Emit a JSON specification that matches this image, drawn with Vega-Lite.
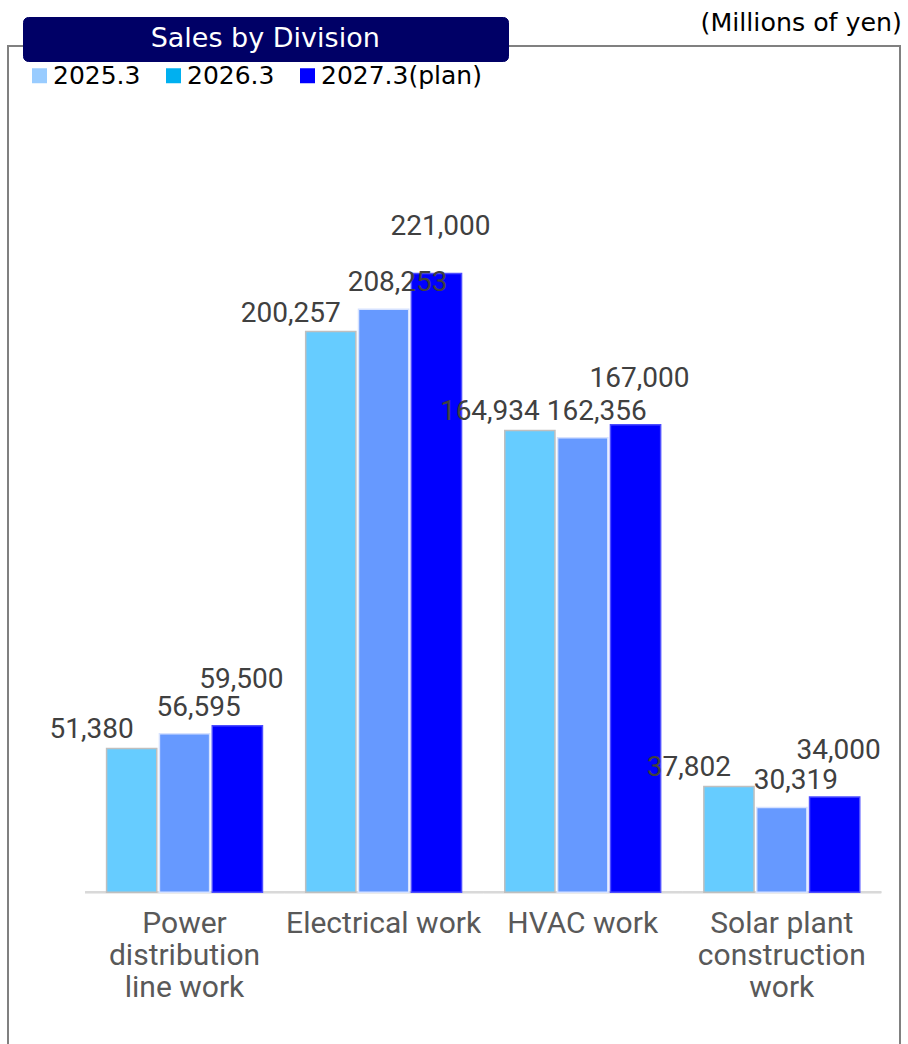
{
  "$schema": "https://vega.github.io/schema/vega-lite/v6.json",
  "width": 892,
  "height": 999,
  "autosize": {"type": "none"},
  "padding": {"left": 8, "top": 46, "right": 8, "bottom": 0},
  "background": "white",
  "config": {
    "view": {"stroke": "#808080", "strokeWidth": 2}
  },
  "title": {
    "text": "(Millions of yen)",
    "anchor": "end",
    "frame": "group",
    "font": "DejaVu Sans",
    "fontSize": 25.3,
    "fontWeight": "normal",
    "color": "#000000",
    "offset": 8,
    "dy": 28,
    "dx": 2
  },
  "data": {
    "values": [
      {"division": "Power distribution line work", "period": "2025.3", "sales": 51380},
      {"division": "Power distribution line work", "period": "2026.3", "sales": 56595},
      {"division": "Power distribution line work", "period": "2027.3(plan)", "sales": 59500},
      {"division": "Electrical work", "period": "2025.3", "sales": 200257},
      {"division": "Electrical work", "period": "2026.3", "sales": 208253},
      {"division": "Electrical work", "period": "2027.3(plan)", "sales": 221000},
      {"division": "HVAC work", "period": "2025.3", "sales": 164934},
      {"division": "HVAC work", "period": "2026.3", "sales": 162356},
      {"division": "HVAC work", "period": "2027.3(plan)", "sales": 167000},
      {"division": "Solar plant construction work", "period": "2025.3", "sales": 37802},
      {"division": "Solar plant construction work", "period": "2026.3", "sales": 30319},
      {"division": "Solar plant construction work", "period": "2027.3(plan)", "sales": 34000}
    ]
  },
  "encoding": {
    "x": {
      "field": "division",
      "type": "nominal",
      "sort": ["Power distribution line work", "Electrical work", "HVAC work", "Solar plant construction work"],
      "scale": {"paddingInner": 0.217, "paddingOuter": 0.3487, "align": 0.71},
      "axis": {
        "orient": "bottom",
        "offset": -152,
        "domain": false,
        "ticks": false,
        "grid": false,
        "title": null,
        "labelAngle": 0,
        "labelPadding": 15,
        "labelFont": "Roboto",
        "labelFontSize": 30,
        "labelColor": "#595959",
        "labelLineHeight": 32,
        "labelLimit": 500,
        "labelOverlap": false,
        "labelBaseline": "top",
        "labelExpr": "datum.label == 'Power distribution line work' ? ['Power', 'distribution', 'line work'] : datum.label == 'Solar plant construction work' ? ['Solar plant', 'construction', 'work'] : datum.label"
      }
    }
  },
  "layer": [
    {
      "mark": {"type": "tick", "orient": "horizontal", "size": 199, "thickness": 2, "color": "#D9D9D9", "opacity": 1},
      "encoding": {
        "y": {"datum": 0, "type": "quantitative", "scale": {"domain": [-54536, 302250], "nice": false, "zero": false}, "axis": null}
      }
    },
    {
      "mark": {"type": "bar", "strokeWidth": 1.5},
      "encoding": {
        "xOffset": {"field": "period", "type": "nominal", "scale": {"paddingInner": 0.05}},
        "y": {"field": "sales", "type": "quantitative", "scale": {"domain": [-54536, 302250], "nice": false, "zero": false}, "axis": null},
        "y2": {"datum": 0},
        "fill": {
          "condition": [
            {"test": "datum.period === '2025.3'", "value": "#66CCFF"},
            {"test": "datum.period === '2026.3'", "value": "#6699FF"}
          ],
          "value": "#0000FF"
        },
        "stroke": {
          "condition": [
            {"test": "datum.period === '2025.3'", "value": "#BFBFBF"},
            {"test": "datum.period === '2026.3'", "value": "#D6E2FF"}
          ],
          "value": "#4D4DFF"
        }
      }
    },
    {
      "mark": {"type": "bar"},
      "encoding": {
        "xOffset": {"field": "period", "type": "nominal"},
        "y": {"datum": 0, "type": "quantitative"},
        "y2": {"datum": 0},
        "color": {
          "field": "period",
          "type": "nominal",
          "scale": {"domain": ["2025.3", "2026.3", "2027.3(plan)"], "range": ["#99CCFF", "#00B0F0", "#0000FF"]},
          "legend": {
            "orient": "none",
            "legendX": 19,
            "legendY": 17,
            "direction": "horizontal",
            "title": null,
            "symbolType": "square",
            "symbolSize": 225,
            "symbolStrokeWidth": 0,
            "labelFont": "DejaVu Sans",
            "labelFontSize": 25,
            "labelColor": "#000000",
            "labelOffset": 1,
            "labelLimit": 400,
            "columnPadding": 20,
            "padding": 0
          }
        }
      }
    },
    {
      "mark": {"type": "bar"},
      "encoding": {
        "y": {"datum": 0, "type": "quantitative"},
        "y2": {"datum": 0},
        "opacity": {
          "field": "division",
          "type": "ordinal",
          "legend": {
            "orient": "none",
            "legendX": 15,
            "legendY": -29,
            "values": [],
            "title": "\u2800\u2800\u2800\u2800\u2800\u2800Sales by Division\u2800\u2800\u2800\u2800\u2800\u2800",
            "titleFont": "DejaVu Sans",
            "titleFontSize": 27,
            "titleFontWeight": "normal",
            "titleColor": "#FFFFFF",
            "titlePadding": 0,
            "titleLimit": 1000,
            "fillColor": "#000066",
            "strokeColor": "#000066",
            "cornerRadius": 5,
            "padding": 9
          }
        }
      }
    },
    {
      "transform": [{"filter": "datum.period === '2025.3'"}],
      "mark": {"type": "text", "font": "Roboto", "fontSize": 28, "color": "#404040", "baseline": "middle", "dx": -40, "dy": -18},
      "encoding": {
        "xOffset": {"field": "period", "type": "nominal"},
        "y": {"field": "sales", "type": "quantitative"},
        "text": {"field": "sales", "type": "quantitative", "format": ","}
      }
    },
    {
      "transform": [{"filter": "datum.period === '2026.3'"}],
      "mark": {"type": "text", "font": "Roboto", "fontSize": 28, "color": "#404040", "baseline": "middle", "dx": 14, "dy": -26},
      "encoding": {
        "xOffset": {"field": "period", "type": "nominal"},
        "y": {"field": "sales", "type": "quantitative"},
        "text": {"field": "sales", "type": "quantitative", "format": ","}
      }
    },
    {
      "transform": [{"filter": "datum.period === '2027.3(plan)'"}],
      "mark": {"type": "text", "font": "Roboto", "fontSize": 28, "color": "#404040", "baseline": "middle", "dx": 4, "dy": -46},
      "encoding": {
        "xOffset": {"field": "period", "type": "nominal"},
        "y": {"field": "sales", "type": "quantitative"},
        "text": {"field": "sales", "type": "quantitative", "format": ","}
      }
    }
  ]
}
